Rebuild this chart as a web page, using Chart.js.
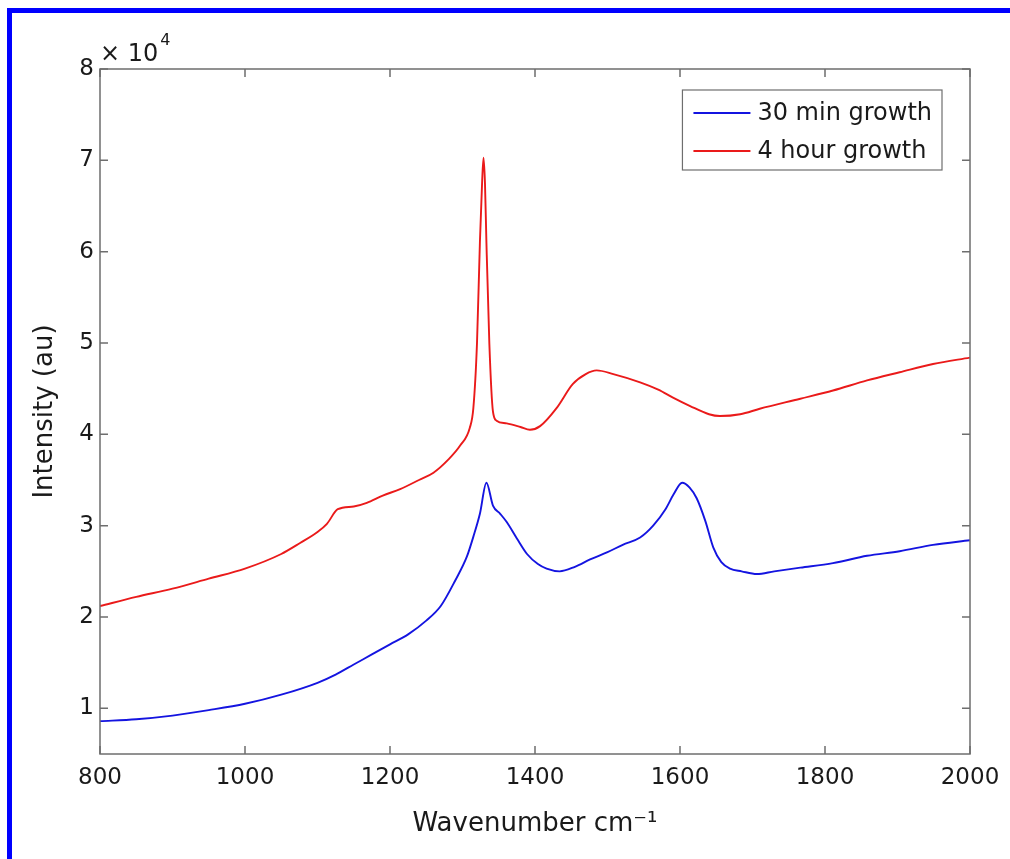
<!DOCTYPE html>
<html>
<head>
<meta charset="utf-8">
<script src="https://cdn.jsdelivr.net/npm/chart.js@4.4.1/dist/chart.umd.min.js"></script>
<style>
  html, body { margin: 0; padding: 0; background: #fff; }
  #wrap { position: relative; width: 1010px; height: 859px; overflow: hidden; }
  #frame { position: absolute; left: 7px; top: 8px; width: 1100px; height: 900px;
           border-top: 5px solid #0000ff; border-left: 5px solid #0000ff; pointer-events: none; }
  canvas { position: absolute; left: 0; top: 0; }
</style>
</head>
<body>
<div id="wrap">
  <canvas id="ramanChart" width="1010" height="859"></canvas>
  <div id="frame"></div>
</div>
<script>
/* Raman spectra (intensity in counts) */
const xTicks = [800, 1000, 1200, 1400, 1600, 1800, 2000];
const yTicks = [10000, 20000, 30000, 40000, 50000, 60000, 70000, 80000];

// 30 min growth
const wn30min = [
  800, 850, 900, 950, 1000, 1050, 1100, 1125, 1150, 1175,
  1200, 1225, 1250, 1270, 1290, 1306, 1315, 1324, 1333, 1342,
  1352, 1361, 1375, 1389, 1404, 1416, 1434, 1455, 1476, 1500,
  1521, 1545, 1563, 1580, 1591, 1603, 1613, 1623, 1635, 1646,
  1657, 1669, 1685, 1706, 1730, 1766, 1811, 1858, 1903, 1949, 2000
];
const int30min = [
  8600, 8800, 9200, 9800, 10500, 11500, 12800, 13700, 14800, 15900,
  17000, 18100, 19600, 21200, 24000, 26600, 28800, 31300, 34700, 32200,
  31300, 30400, 28600, 26900, 25800, 25300, 25000, 25500, 26300, 27100,
  27900, 28700, 30000, 31800, 33400, 34700, 34200, 33000, 30500, 27600,
  26000, 25300, 25000, 24700, 25000, 25400, 25900, 26700, 27200, 27900, 28400
];

// 4 hour growth
const wn4hour = [
  800, 850, 900, 950, 1000, 1050, 1076, 1100, 1113, 1128,
  1150, 1168, 1190, 1214, 1240, 1260, 1280, 1297, 1310, 1315,
  1320, 1324, 1327, 1329, 1331, 1333, 1337, 1342, 1347, 1361,
  1380, 1393, 1407, 1430, 1452, 1470, 1485, 1508, 1545, 1570,
  1591, 1614, 1640, 1655, 1683, 1710, 1766, 1811, 1858, 1903, 1949, 2000
];
const int4hour = [
  21200, 22200, 23100, 24200, 25300, 26900, 28100, 29300, 30200, 31800,
  32100, 32500, 33300, 34000, 35000, 35800, 37200, 38800, 40700, 42900,
  50000, 61000, 67500, 70300, 67500, 61000, 50000, 42500, 41500, 41200,
  40800, 40500, 40900, 42900, 45500, 46600, 47000, 46600, 45700, 44900,
  44000, 43100, 42200, 42000, 42200, 42800, 43900, 44800, 45900, 46800, 47700, 48400
];

const FONT = 'DejaVu Sans';

function toPoints(xs, ys) {
  return xs.map((x, i) => ({ x: x, y: ys[i] }));
}

// matlab style box, inward ticks, exponent label and legend
const matlabAxes = {
  id: 'matlabAxes',
  afterDraw(chart) {
    const ctx = chart.ctx;
    const a = chart.chartArea;
    const xs = chart.scales.x, ys = chart.scales.y;
    ctx.save();
    ctx.strokeStyle = '#6e6e6e';
    ctx.lineWidth = 1.5;
    ctx.strokeRect(a.left, a.top, a.right - a.left, a.bottom - a.top);

    const tl = 8;
    ctx.beginPath();
    xs.ticks.forEach(t => {
      const px = xs.getPixelForValue(t.value);
      ctx.moveTo(px, a.bottom); ctx.lineTo(px, a.bottom - tl);
      ctx.moveTo(px, a.top); ctx.lineTo(px, a.top + tl);
    });
    ys.ticks.forEach(t => {
      const py = ys.getPixelForValue(t.value);
      ctx.moveTo(a.left, py); ctx.lineTo(a.left + tl, py);
      ctx.moveTo(a.right, py); ctx.lineTo(a.right - tl, py);
    });
    ctx.stroke();

    // x 10^4
    ctx.fillStyle = '#1a1a1a';
    ctx.textBaseline = 'alphabetic';
    ctx.textAlign = 'left';
    ctx.font = '24px "' + FONT + '"';
    ctx.fillText('\u00d7 10', a.left, a.top - 8);
    const w = ctx.measureText('\u00d7 10').width;
    ctx.font = '16px "' + FONT + '"';
    ctx.fillText('4', a.left + w + 2, a.top - 24);

    // legend
    ctx.font = '24px "' + FONT + '"';
    const sets = chart.data.datasets;
    const tw = Math.max(...sets.map(d => ctx.measureText(d.label).width));
    const bw = 11 + 57 + 7 + tw + 10;
    const bh = 80;
    const bx = a.right - 28 - bw, by = a.top + 21;
    ctx.fillStyle = '#fff';
    ctx.fillRect(bx, by, bw, bh);
    ctx.strokeStyle = '#6e6e6e';
    ctx.lineWidth = 1.2;
    ctx.strokeRect(bx, by, bw, bh);
    sets.forEach((d, i) => {
      const cy = by + 23 + i * 38;
      ctx.strokeStyle = d.borderColor;
      ctx.lineWidth = 1.8;
      ctx.beginPath();
      ctx.moveTo(bx + 11, cy); ctx.lineTo(bx + 68, cy);
      ctx.stroke();
      ctx.fillStyle = '#1a1a1a';
      ctx.textBaseline = 'middle';
      ctx.fillText(d.label, bx + 75, cy + 1);
    });
    ctx.restore();
  }
};

const ctx = document.getElementById('ramanChart').getContext('2d');
new Chart(ctx, {
  type: 'line',
  data: {
    datasets: [{
      label: '30 min growth',
      data: toPoints(wn30min, int30min),
      borderColor: '#1414e0',
      borderWidth: 1.9,
      pointRadius: 0,
      cubicInterpolationMode: 'monotone',
      fill: false
    }, {
      label: '4 hour growth',
      data: toPoints(wn4hour, int4hour),
      borderColor: '#ea1a1a',
      borderWidth: 1.9,
      pointRadius: 0,
      cubicInterpolationMode: 'monotone',
      fill: false
    }]
  },
  options: {
    responsive: false,
    animation: false,
    layout: { padding: { top: 69, right: 40, left: 0, bottom: 0 } },
    scales: {
      x: {
        type: 'linear',
        min: 800,
        max: 2000,
        afterBuildTicks: s => { s.ticks = xTicks.map(v => ({ value: v })); },
        afterFit: s => { s.height = 105; },
        grid: { display: false, drawTicks: false },
        border: { display: false },
        ticks: {
          callback: v => String(v),
          font: { family: FONT, size: 23 },
          color: '#1a1a1a',
          padding: 10,
          maxRotation: 0
        },
        title: {
          display: true,
          text: 'Wavenumber cm\u207b\u00b9',
          font: { family: FONT, size: 26 },
          color: '#1a1a1a',
          padding: { top: 0, bottom: 19 }
        }
      },
      y: {
        min: 5000,
        max: 80000,
        afterBuildTicks: s => { s.ticks = yTicks.map(v => ({ value: v })); },
        afterFit: s => { s.width = 100; },
        grid: { display: false, drawTicks: false },
        border: { display: false },
        ticks: {
          callback: v => String(v / 10000),
          font: { family: FONT, size: 23 },
          color: '#1a1a1a',
          padding: 6
        },
        title: {
          display: true,
          text: 'Intensity (au)',
          font: { family: FONT, size: 26 },
          color: '#1a1a1a',
          padding: { top: 30, bottom: 0 }
        }
      }
    },
    plugins: {
      legend: { display: false },
      tooltip: { enabled: false }
    }
  },
  plugins: [matlabAxes]
});
</script>
</body>
</html>
